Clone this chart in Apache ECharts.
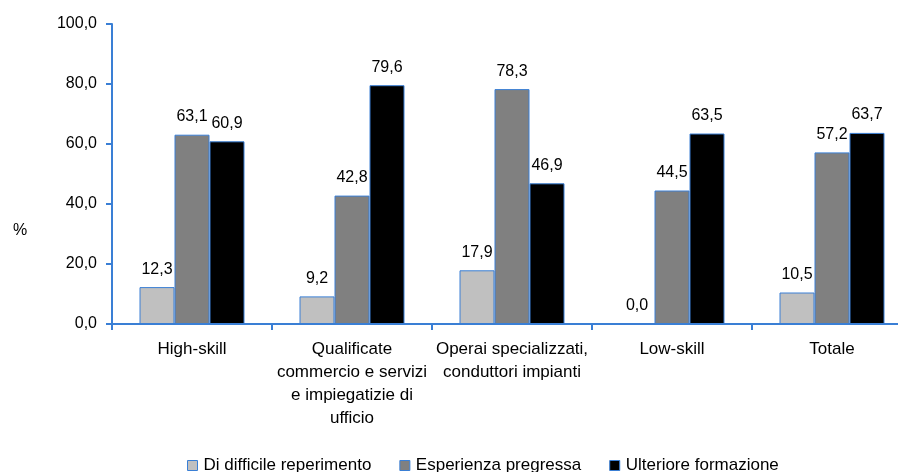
<!DOCTYPE html>
<html>
<head>
<meta charset="utf-8">
<script src="https://cdn.jsdelivr.net/npm/echarts@6/dist/echarts.min.js"></script>
<style>
html, body { margin: 0; padding: 0; background: #fff; }
#chart { width: 898px; height: 472px; }
</style>
</head>
<body>
<div id="chart"></div>
<script>
// Data
var categories = ['High-skill', 'Qualificate\ncommercio e servizi\ne impiegatizie di\nufficio', 'Operai specializzati,\nconduttori impianti', 'Low-skill', 'Totale'];
var seriesNames = ['Di difficile reperimento', 'Esperienza pregressa', 'Ulteriore formazione'];
var difficile = [12.3, 9.2, 17.9, 0.0, 10.5];
var esperienza = [63.1, 42.8, 78.3, 44.5, 57.2];
var formazione = [60.9, 79.6, 46.9, 63.5, 63.7];
var yTicks = [0, 20, 40, 60, 80, 100];
// Style
var blue = '#3a7fd5';
var font = 'Liberation Sans, Arial, sans-serif';
var colors = ['#c0c0c0', '#808080', '#000000'];

function Fmt(v) {	// 12.3 -> "12,3"
	return Number(v).toFixed(1).replace('.', ',');
}
function MakeSeries(name, data, color) {
	return {
		name: name,
		type: 'bar',
		data: data,
		barWidth: 35,
		barGap: '0%',
		itemStyle: { color: color, borderColor: blue, borderWidth: 1 },
		label: {
			show: true,
			position: 'top',
			distance: 10,
			color: '#000',
			fontFamily: font,
			fontSize: 16,
			formatter: function(p) { return Fmt(p.value); }
		}
	};
}

var chart = echarts.init(document.getElementById('chart'), null, { renderer: 'canvas' });
chart.setOption({
	animation: false,
	backgroundColor: '#fff',
	grid: { left: 112, width: 800, top: 24, bottom: 148, containLabel: false, outerBoundsMode: 'none' },
	legend: {
		left: 182,
		top: 452,
		itemWidth: 10,
		itemHeight: 10,
		itemGap: 28,
		icon: 'rect',
		itemStyle: { borderColor: blue, borderWidth: 1 },
		textStyle: { fontFamily: font, fontSize: 17, color: '#000', padding: [0, 0, 0, 1] },
		data: seriesNames
	},
	xAxis: {
		type: 'category',
		data: categories,
		axisLine: { lineStyle: { color: blue, width: 2 } },
		axisTick: { show: true, length: 6, lineStyle: { color: blue, width: 2 } },
		axisLabel: { interval: 0, margin: 14, color: '#000', fontFamily: font, fontSize: 17, lineHeight: 23, align: 'center' },
		splitLine: { show: false }
	},
	yAxis: {
		type: 'value',
		min: yTicks[0],
		max: yTicks[yTicks.length - 1],
		interval: yTicks[1] - yTicks[0],
		axisLine: { show: true, lineStyle: { color: blue, width: 2 } },
		axisTick: { show: true, length: 6, lineStyle: { color: blue, width: 2 } },
		axisLabel: { margin: 15, color: '#000', fontFamily: font, fontSize: 16, formatter: Fmt },
		splitLine: { show: false }
	},
	graphic: [{
		type: 'text',
		left: 13,
		top: 223,
		style: { text: '%', fill: '#000', font: '16px ' + font }
	}],
	series: [
		MakeSeries(seriesNames[0], difficile, colors[0]),
		MakeSeries(seriesNames[1], esperienza, colors[1]),
		MakeSeries(seriesNames[2], formazione, colors[2])
	]
});
</script>
</body>
</html>
